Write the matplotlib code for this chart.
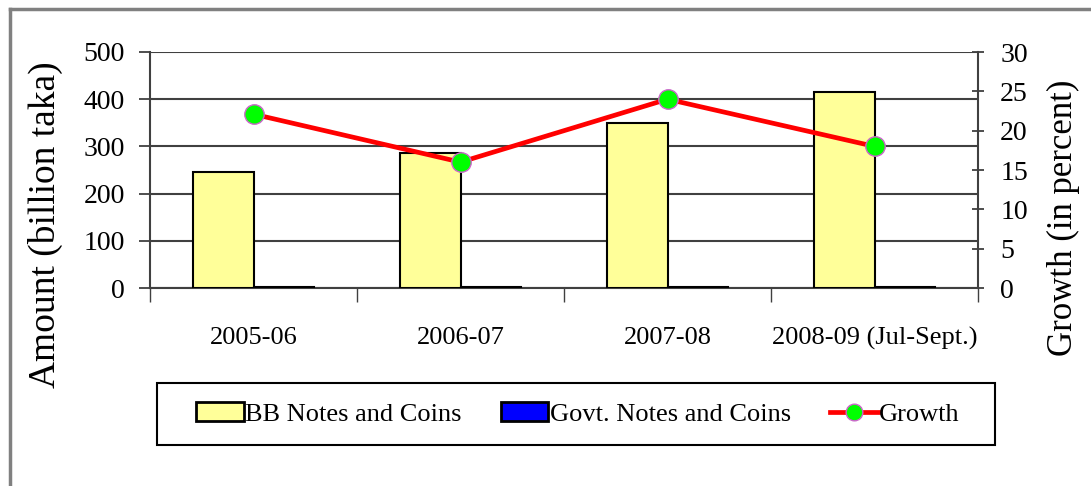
import matplotlib
matplotlib.use("Agg")
import matplotlib.pyplot as plt
import numpy as np
from matplotlib.patches import Rectangle
from matplotlib.lines import Line2D

categories = ["2005-06", "2006-07", "2007-08", "2008-09 (Jul-Sept.)"]
bb_notes = [246, 285, 350, 416]
govt_notes = [3, 3, 3, 3]
growth = [22.1, 16.0, 24.0, 18.0]

plt.rcParams['font.family'] = ['Liberation Serif', 'DejaVu Serif']

fig = plt.figure(figsize=(10.91, 4.86), dpi=100)
fig.patch.set_facecolor('white')

# outer gray frame
fig.add_artist(Line2D([10/1091, 10/1091], [0, 1 - 9/486], transform=fig.transFigure,
                      color='#808080', lw=2.5))
fig.add_artist(Line2D([10/1091, 1], [1 - 9/486, 1 - 9/486], transform=fig.transFigure,
                      color='#808080', lw=2.5))

ax = fig.add_axes([150/1091, 1 - 288/486, 828/1091, 236/486])
ax2 = ax.twinx()

x = np.arange(len(categories))
w = 0.29
ax.bar(x - w/2, bb_notes, width=w, color='#FFFF99', edgecolor='black', linewidth=1.5, zorder=3)
ax.bar(x + w/2, govt_notes, width=w, color='#0000FF', edgecolor='black', linewidth=1.5, zorder=3)

ax.set_xlim(-0.5, len(categories) - 0.5)
ax.set_ylim(0, 500)
ax.set_yticks([0, 100, 200, 300, 400, 500])
ax.yaxis.grid(True, color='#404040', linewidth=1.5, zorder=0)
ax.set_axisbelow(True)

ax.set_xticks(np.arange(len(categories) + 1) - 0.5, minor=False)
ax.set_xticklabels([])
ax.set_xticks(x, minor=True)
ax.set_xticklabels(categories, minor=True, fontsize=19)
ax.tick_params(axis='x', which='minor', length=0, pad=28)
ax.tick_params(axis='x', which='major', length=10, width=1, color='#404040', direction='out')
ax.tick_params(axis='y', labelsize=20, length=8, width=1.3, color='#404040', pad=10)

ax.spines['top'].set_visible(False)
ax.spines['right'].set_visible(False)
ax.spines['left'].set_color('#404040')
ax.spines['left'].set_linewidth(1.5)
ax.spines['bottom'].set_color('#404040')
ax.spines['bottom'].set_linewidth(1.5)

ax2.plot(x, growth, color='#FF0000', linewidth=3.4, marker='o', markersize=14,
         markerfacecolor='#00FF00', markeredgecolor='#CC66CC', markeredgewidth=1, zorder=5)
ax2.set_ylim(0, 30)
ax2.set_yticks([0, 5, 10, 15, 20, 25, 30])
ax2.tick_params(axis='y', labelsize=20, length=8, width=1.3, color='#404040',
                direction='inout', pad=12)
for s in ['top', 'left', 'bottom']:
    ax2.spines[s].set_visible(False)
ax2.spines['right'].set_color('#404040')
ax2.spines['right'].set_linewidth(1.5)

fig.text(45/1091, 1 - 225/486, "Amount (billion taka)", rotation=90, fontsize=27,
         ha='center', va='center')
fig.text(1063/1091, 1 - 218/486, "Growth (in percent)", rotation=90, fontsize=25,
         ha='center', va='center')

# legend box drawn explicitly
fig.add_artist(Rectangle((157/1091, 1 - 445/486), (995 - 157)/1091, 62/486,
                         transform=fig.transFigure, facecolor='white',
                         edgecolor='black', linewidth=1.5, zorder=1))

handles = [Rectangle((0, 0), 1, 1, facecolor='#FFFF99', edgecolor='black', linewidth=2),
           Rectangle((0, 0), 1, 1, facecolor='#0000FF', edgecolor='black', linewidth=2),
           Line2D([], [], color='#FF0000', linewidth=3.4, marker='o', markersize=12,
                  markerfacecolor='#00FF00', markeredgecolor='#CC66CC', markeredgewidth=1)]
labels = ["BB Notes and Coins", "Govt. Notes and Coins", "Growth"]
leg = fig.legend(handles, labels, loc='center', bbox_to_anchor=(578/1091, 1 - 414/486),
                 ncol=3, fontsize=19, frameon=False,
                 handlelength=1.8, handletextpad=0.05,
                 columnspacing=1.5, borderpad=0.6, borderaxespad=0)
leg.set_zorder(2)

fig.savefig("out.png", dpi=100, facecolor='white')
